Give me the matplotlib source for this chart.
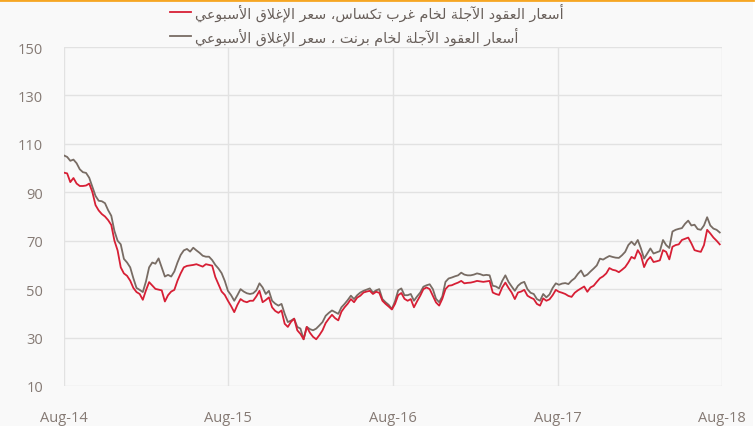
import pandas as pd
import numpy as np
import matplotlib
matplotlib.use('Agg')
import matplotlib.pyplot as plt
from matplotlib.lines import Line2D
from matplotlib.patches import Rectangle

# weekly closes (Aug-14 .. Aug-18)
start_date = '2014-08-01'

brent = [
    105.2, 104.6, 103.0, 103.5, 102.0, 99.5, 98.3, 98.0, 96.0, 92.2,
    88.5, 86.5, 86.3, 85.5, 82.6, 80.3, 74.0, 70.0, 68.5, 62.5,
    61.0, 59.0, 54.5, 50.5, 49.7, 48.8, 53.2, 59.0, 61.0, 60.5,
    62.7, 59.0, 55.2, 55.9, 55.2, 57.3, 61.0, 64.1, 66.0, 66.6,
    65.5, 67.1, 66.0, 65.0, 63.8, 63.4, 63.4, 62.0, 60.0, 58.5,
    56.6, 53.4, 49.3, 47.5, 45.2, 47.5, 50.0, 49.0, 48.3, 48.0,
    48.3, 49.5, 52.4, 50.7, 48.0, 49.3, 45.2, 44.0, 43.2, 43.9,
    39.8, 36.4, 37.0, 37.8, 34.4, 33.7, 29.3, 34.4, 33.5, 33.0,
    33.7, 35.0, 36.4, 39.0, 40.2, 41.2, 40.5, 39.8, 42.5, 43.9,
    45.5, 47.3, 45.9, 47.5, 48.6, 49.3, 49.8, 50.3, 48.6, 49.5,
    50.0, 45.9, 44.6, 43.5, 41.8, 45.0, 49.5, 50.3, 47.5, 47.5,
    48.0, 45.2, 47.0, 48.6, 51.0, 51.6, 52.0, 50.0, 46.0, 44.6,
    47.0, 53.0, 54.4, 54.8, 55.3, 55.7, 56.8, 56.0, 55.7, 55.7,
    56.0, 56.5, 56.2, 55.7, 55.9, 55.7, 51.4, 51.1, 50.3, 53.4,
    55.7, 53.0, 51.1, 49.3, 51.4, 52.5, 53.0, 50.0, 48.5, 48.0,
    45.9, 45.2, 48.0, 46.6, 47.8, 50.5, 52.4, 51.8, 52.3, 52.5,
    52.1, 53.5, 54.5, 56.3, 57.7, 55.3, 56.0, 57.3, 58.5, 59.8,
    62.6, 62.2, 63.0, 63.7, 63.3, 63.0, 62.9, 64.0, 65.4, 68.2,
    69.6, 68.2, 70.3, 66.8, 62.6, 64.7, 66.8, 64.7, 65.2, 65.7,
    70.3, 68.2, 67.0, 73.8, 74.5, 74.9, 75.2, 77.0, 78.3, 76.3,
    76.6, 74.8, 74.5, 76.3, 79.7, 76.3, 75.0, 74.5, 73.4,
]

wti = [
    98.1, 97.8, 94.2, 95.9, 93.6, 92.6, 92.6, 92.8, 93.6, 90.1,
    84.7, 82.5, 81.0, 80.0, 78.5, 76.5, 70.0, 66.0, 59.0, 56.5,
    55.5, 53.5, 50.5, 48.8, 48.0, 45.6, 49.5, 52.9, 51.5, 50.1,
    49.8, 49.5, 44.9, 47.5, 49.0, 49.7, 53.5, 56.5, 59.0, 59.6,
    59.8, 60.0, 60.3, 59.8, 59.3, 60.3, 60.0, 59.7, 55.0, 52.0,
    49.0, 47.6, 45.2, 43.0, 40.5, 43.5, 45.9, 45.0, 44.6, 45.2,
    45.2, 47.0, 49.3, 44.6, 45.5, 46.6, 42.5, 41.0, 40.2, 41.2,
    35.7, 34.4, 36.5, 37.8, 33.0, 31.5, 29.3, 34.4, 32.0, 30.3,
    29.3, 31.0, 33.0, 36.0, 37.8, 39.4, 38.0, 37.1, 40.7, 42.5,
    44.0, 45.9, 44.6, 46.5, 47.3, 48.6, 49.0, 49.3, 48.0, 48.9,
    48.5, 45.2, 43.9, 42.8, 41.6, 43.9, 47.5, 48.4, 46.0, 45.2,
    45.9, 42.5, 45.0, 47.3, 50.0, 50.7, 50.0, 47.3, 44.5, 43.2,
    46.0, 50.0, 51.4, 51.6, 52.2, 52.7, 53.4, 52.4, 52.6, 52.7,
    53.0, 53.4, 53.2, 53.0, 53.2, 53.4, 48.6, 48.0, 47.6, 50.7,
    52.7, 50.5, 48.6, 45.9, 48.6, 49.0, 49.7, 47.3, 46.5, 45.9,
    43.9, 43.2, 46.2, 45.2, 45.8, 47.5, 49.7, 48.9, 48.5, 48.0,
    47.2, 46.8, 48.5, 49.5, 50.3, 51.1, 48.9, 50.7, 51.4, 53.0,
    54.5, 55.3, 56.5, 58.7, 58.0, 57.7, 57.0, 58.0, 59.1, 61.0,
    63.3, 62.6, 66.1, 64.0, 59.1, 61.9, 63.3, 61.2, 61.5, 61.9,
    66.1, 65.4, 62.3, 67.5, 68.2, 68.5, 70.3, 70.8, 71.3, 68.9,
    66.1, 65.7, 65.4, 68.2, 74.5, 73.0, 71.3, 70.0, 68.5,
]

label_wti = 'أسعار العقود الآجلة لخام غرب تكساس، سعر الإغلاق الأسبوعي'
label_brent = 'أسعار العقود الآجلة لخام برنت ، سعر الإغلاق الأسبوعي'

y_ticks = [10, 30, 50, 70, 90, 110, 130, 150]
x_ticks = ['2014-08-01', '2015-08-01', '2016-08-01', '2017-08-01', '2018-08-01']
x_labels = ['Aug-14', 'Aug-15', 'Aug-16', 'Aug-17', 'Aug-18']

# matplotlib has no arabic shaping, so join the letters by hand
# (isolated, final, initial, medial)
FORMS = {
    '\u0622': ('\uFE81', '\uFE82', None, None),
    '\u0623': ('\uFE83', '\uFE84', None, None),
    '\u0625': ('\uFE87', '\uFE88', None, None),
    '\u0627': ('\uFE8D', '\uFE8E', None, None),
    '\u0628': ('\uFE8F', '\uFE90', '\uFE91', '\uFE92'),
    '\u0629': ('\uFE93', '\uFE94', None, None),
    '\u062A': ('\uFE95', '\uFE96', '\uFE97', '\uFE98'),
    '\u062C': ('\uFE9D', '\uFE9E', '\uFE9F', '\uFEA0'),
    '\u062E': ('\uFEA5', '\uFEA6', '\uFEA7', '\uFEA8'),
    '\u062F': ('\uFEA9', '\uFEAA', None, None),
    '\u0631': ('\uFEAD', '\uFEAE', None, None),
    '\u0633': ('\uFEB1', '\uFEB2', '\uFEB3', '\uFEB4'),
    '\u0639': ('\uFEC9', '\uFECA', '\uFECB', '\uFECC'),
    '\u063A': ('\uFECD', '\uFECE', '\uFECF', '\uFED0'),
    '\u0642': ('\uFED5', '\uFED6', '\uFED7', '\uFED8'),
    '\u0643': ('\uFED9', '\uFEDA', '\uFEDB', '\uFEDC'),
    '\u0644': ('\uFEDD', '\uFEDE', '\uFEDF', '\uFEE0'),
    '\u0645': ('\uFEE1', '\uFEE2', '\uFEE3', '\uFEE4'),
    '\u0646': ('\uFEE5', '\uFEE6', '\uFEE7', '\uFEE8'),
    '\u0648': ('\uFEED', '\uFEEE', None, None),
    '\u064A': ('\uFEF1', '\uFEF2', '\uFEF3', '\uFEF4'),
}
LAM_ALEF = {
    '\u0622': ('\uFEF5', '\uFEF6'),
    '\u0623': ('\uFEF7', '\uFEF8'),
    '\u0625': ('\uFEF9', '\uFEFA'),
    '\u0627': ('\uFEFB', '\uFEFC'),
}


def shape(text):
    out = []
    i = 0
    n = len(text)
    while i < n:
        c = text[i]
        if c not in FORMS:
            out.append(c)
            i += 1
            continue
        prev = text[i - 1] if i > 0 else ''
        conn_prev = prev in FORMS and FORMS[prev][2] is not None
        if c == '\u0644' and i + 1 < n and text[i + 1] in LAM_ALEF:
            iso, fin = LAM_ALEF[text[i + 1]]
            out.append(fin if conn_prev else iso)
            i += 2
            continue
        nxt = text[i + 1] if i + 1 < n else ''
        conn_next = FORMS[c][2] is not None and nxt in FORMS
        iso, fin, ini, med = FORMS[c]
        if conn_prev and conn_next:
            out.append(med)
        elif conn_prev:
            out.append(fin)
        elif conn_next:
            out.append(ini)
        else:
            out.append(iso)
        i += 1
    return ''.join(reversed(out))


dates = pd.date_range(start_date, periods=len(brent), freq='7D')

bg = '#f9f9f9'
tick_col = '#857a74'

fig = plt.figure(figsize=(7.56, 4.27), dpi=100, facecolor=bg)
ax = fig.add_axes([64 / 756, 1 - 387 / 427, (722 - 64) / 756, (387 - 48) / 427])
ax.set_facecolor(bg)

l_wti, = ax.plot(dates, wti, color='#d71f35', lw=1.3, zorder=3)
l_brent, = ax.plot(dates, brent, color='#786c64', lw=1.3, zorder=2)

ax.set_ylim(10, 150)
ax.set_yticks(y_ticks)
ax.set_xlim(pd.Timestamp(x_ticks[0]), pd.Timestamp(x_ticks[-1]))
ax.set_xticks([pd.Timestamp(d) for d in x_ticks])
ax.set_xticklabels(x_labels)

ax.grid(True, color='#e2e2e2', lw=1)
ax.set_axisbelow(True)
for s in ax.spines.values():
    s.set_visible(False)
ax.tick_params(length=0, colors=tick_col, labelsize=10.5, pad=15)
for t in ax.get_xticklabels() + ax.get_yticklabels():
    t.set_fontfamily('Open Sans')
ax.tick_params(axis='x', pad=17)

ax.legend([l_wti, l_brent], [shape(label_wti), shape(label_brent)],
          loc='upper left', bbox_to_anchor=(170 / 756, 1 - 3 / 427),
          bbox_transform=fig.transFigure, frameon=False,
          borderaxespad=0, borderpad=0, handlelength=1.45, handletextpad=0.3,
          labelspacing=0.4, prop={'family': 'DejaVu Sans', 'size': 10.3},
          labelcolor='#685f5a')

# orange strip along the top edge, white margin on the right
fig.add_artist(Line2D([0, 753 / 756], [1 - 1 / 427, 1 - 1 / 427],
                      transform=fig.transFigure, color='#f6a623', lw=2))
fig.add_artist(Rectangle((753 / 756, 0), 3 / 756, 1, transform=fig.transFigure,
                         color='white', lw=0))

fig.savefig('out.png', dpi=100, facecolor=bg)
